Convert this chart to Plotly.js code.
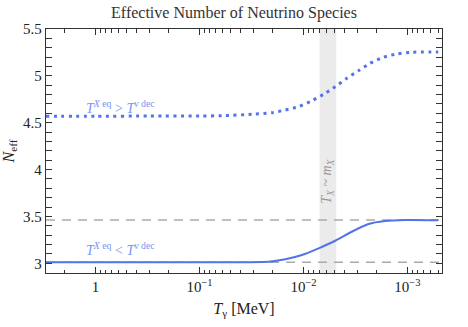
<!DOCTYPE html>
<html>
<head>
<meta charset="utf-8">
<script src="https://cdn.plot.ly/plotly-3.0.1.min.js"></script>
<style>
  body { margin: 0; background: #fff; }
  #plot { width: 468px; height: 327px; }
</style>
</head>
<body>
<div id="plot"></div>
<script>
// temperature (MeV)
var tHigh = [3.0, 1.0, 0.3, 0.1, 0.0607, 0.0313, 0.0201, 0.01496, 0.01115, 0.0083, 0.00618, 0.00495, 0.00383, 0.00296, 0.00229, 0.0017, 0.00127, 0.000912, 0.000505];
var nHigh = [4.57, 4.57, 4.571, 4.572, 4.575, 4.59, 4.607, 4.636, 4.671, 4.735, 4.814, 4.885, 4.974, 5.055, 5.134, 5.199, 5.234, 5.252, 5.255];

var tLow = [3.0, 1.0, 0.3, 0.1, 0.0653, 0.0216, 0.01496, 0.01036, 0.00716, 0.00495, 0.00343, 0.00237, 0.00164, 0.00105, 0.000505];
var nLow = [3.011, 3.011, 3.011, 3.011, 3.011, 3.017, 3.043, 3.089, 3.16, 3.241, 3.337, 3.419, 3.451, 3.462, 3.46];

// reference levels
var refLevels = [3.011, 3.462];
var tEnds = [3.0, 0.000465];

// band where T_X ~ m_X
var bandT = [0.0070, 0.00484];

// ticks
var xTickVals = [1, 0.1, 0.01, 0.001];
var xTickText = ['1', '10<sup>\u22121</sup>', '10<sup>\u22122</sup>', '10<sup>\u22123</sup>'];
var yTickVals = [3, 3.5, 4, 4.5, 5, 5.5];
var yTickText = ['3', '3.5', '4', '4.5', '5', '5.5'];

var xMinor = [];
[1, 0.1, 0.01, 0.001, 0.0001].forEach(function (d) {
  for (var k = 2; k <= 9; k++) {
    var v = k * d;
    if (v < 3.0 && v > 0.000465) xMinor.push(v);
  }
});

var blue = 'rgb(83,115,232)';
var grey = 'rgb(170,170,170)';
var axisCol = '#333';
var xRange = [Math.log10(3.0), Math.log10(0.000465)];

var data = [
  {
    x: tEnds, y: [refLevels[0], refLevels[0]],
    mode: 'lines', line: {color: grey, width: 1.6, dash: '9px,7px'}, hoverinfo: 'skip'
  },
  {
    x: tEnds, y: [refLevels[1], refLevels[1]],
    mode: 'lines', line: {color: grey, width: 1.6, dash: '9px,7px'}, hoverinfo: 'skip'
  },
  {
    x: tLow, y: nLow, mode: 'lines',
    line: {color: blue, width: 2, shape: 'spline', smoothing: 0.6}
  },
  {
    x: tHigh, y: nHigh, mode: 'lines',
    line: {color: blue, width: 3, dash: '3px,4.5px', shape: 'spline', smoothing: 0.6}
  },
  // carrier for the minor-tick axis, not visible
  {
    x: tLow, y: nLow, xaxis: 'x2', mode: 'lines', opacity: 0,
    line: {width: 0}, hoverinfo: 'skip'
  }
];

var serif = '"Liberation Serif", "DejaVu Serif", serif';

var layout = {
  width: 468, height: 327,
  margin: {l: 46, r: 26, t: 29, b: 54},
  paper_bgcolor: '#fff', plot_bgcolor: '#fff',
  showlegend: false,
  font: {family: serif, size: 15, color: '#222'},
  title: {
    text: 'Effective Number of Neutrino Species',
    x: 0.5, xanchor: 'center', y: 0.962, yanchor: 'middle',
    font: {family: serif, size: 16, color: '#333'}
  },
  xaxis: {
    type: 'log', range: xRange,
    tickmode: 'array', tickvals: xTickVals, ticktext: xTickText,
    ticks: 'inside', ticklen: 6, tickcolor: axisCol, tickwidth: 1,
    showline: true, linecolor: axisCol, linewidth: 1.2, mirror: 'allticks',
    showgrid: false, zeroline: false,
    tickfont: {family: serif, size: 15, color: '#222'},
    title: {text: '<i>T</i><sub>\u03b3</sub> [MeV]', font: {family: serif, size: 16, color: '#222'}, standoff: 8}
  },
  // minor ticks of the log axis
  xaxis2: {
    type: 'log', range: xRange, overlaying: 'x', anchor: 'y', side: 'bottom',
    tickmode: 'array', tickvals: xMinor, showticklabels: false,
    ticks: 'inside', ticklen: 3.5, tickcolor: axisCol, tickwidth: 1,
    showline: true, linecolor: axisCol, linewidth: 1.2, mirror: 'allticks',
    showgrid: false, zeroline: false
  },
  yaxis: {
    range: [2.897, 5.5],
    tickmode: 'array', tickvals: yTickVals, ticktext: yTickText,
    ticks: 'inside', ticklen: 6, tickcolor: axisCol, tickwidth: 1,
    minor: {dtick: 0.1, ticks: 'inside', ticklen: 3.5, tickcolor: axisCol, tickwidth: 1},
    showline: true, linecolor: axisCol, linewidth: 1.2, mirror: 'allticks',
    showgrid: false, zeroline: false,
    tickfont: {family: serif, size: 15, color: '#222'},
    title: {text: '<i>N</i><sub>eff</sub>', font: {family: serif, size: 16, color: '#222'}, standoff: 4}
  },
  shapes: [
    {
      type: 'rect', xref: 'x', yref: 'paper',
      x0: bandT[0], x1: bandT[1], y0: 0, y1: 1,
      fillcolor: 'rgb(235,235,235)', line: {width: 0}, layer: 'below'
    }
  ],
  annotations: [
    {
      xref: 'x', yref: 'y', x: Math.log10(0.58), y: 4.67,
      text: '<i>T</i><sup><i>X</i> eq</sup> > <i>T</i><sup><i>\u03bd</i> dec</sup>',
      showarrow: false, font: {family: serif, size: 14, color: 'rgb(120,150,240)'}
    },
    {
      xref: 'x', yref: 'y', x: Math.log10(0.58), y: 3.15,
      text: '<i>T</i><sup><i>X</i> eq</sup> < <i>T</i><sup><i>\u03bd</i> dec</sup>',
      showarrow: false, font: {family: serif, size: 14, color: 'rgb(120,150,240)'}
    },
    {
      xref: 'x', yref: 'y', x: Math.log10(0.0058), y: 3.87,
      text: '<i>T<sub>X</sub></i> ~ <i>m<sub>X</sub></i>', textangle: -90,
      showarrow: false, font: {family: serif, size: 14, color: 'rgb(150,150,150)'}
    }
  ]
};

Plotly.newPlot('plot', data, layout, {staticPlot: true});
</script>
</body>
</html>
